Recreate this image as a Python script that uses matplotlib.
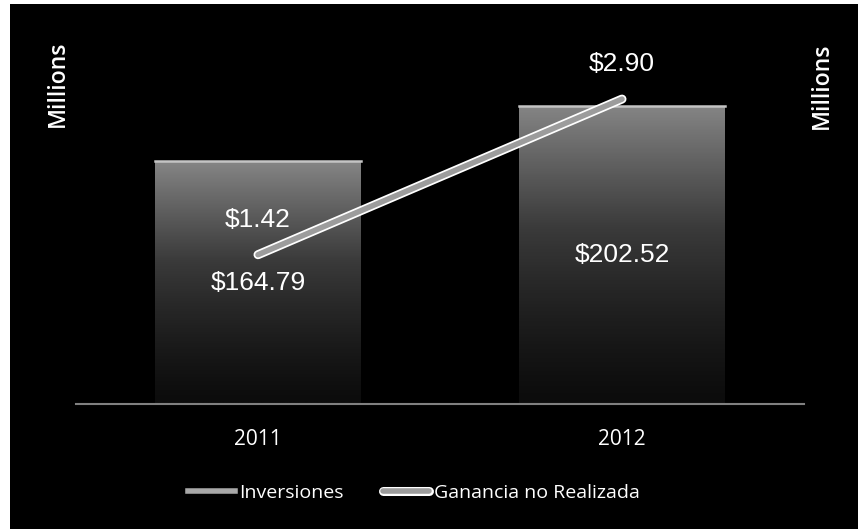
import matplotlib.pyplot as plt
import matplotlib.patheffects as pe
import numpy as np
from matplotlib.lines import Line2D
from matplotlib.patches import Rectangle
from matplotlib.colors import LinearSegmentedColormap

years = ["2011", "2012"]
inversiones = [164.79, 202.52]
ganancia = [1.42, 2.90]
series_names = ["Inversiones", "Ganancia no Realizada"]

humanist = ["Open Sans", "DejaVu Sans"]
arial = ["Liberation Sans", "DejaVu Sans"]

fig = plt.figure(figsize=(8.58, 5.29), dpi=100, facecolor="white")
# black chart area (scan leaves a thin white margin on the left and top)
fig.patches.append(Rectangle((10 / 858, 0), 1, 1 - 4 / 529, transform=fig.transFigure,
                             facecolor="black", edgecolor="none", zorder=-5))

ax = fig.add_axes([76 / 858, 1 - 404 / 529, 728 / 858, 368 / 529])
ax.set_facecolor("none")
x = np.arange(len(years))

bars = ax.bar(x, inversiones, width=0.565, color="none", edgecolor="none", zorder=2)
cmap = LinearSegmentedColormap.from_list("barfade", ["#0c0c0c", "#3a3a3a", "#858585"])
grad = np.linspace(0, 1, 256).reshape(-1, 1) ** 1.3
for b in bars:
    x0, w, h = b.get_x(), b.get_width(), b.get_height()
    im = ax.imshow(grad, cmap=cmap, aspect="auto", origin="lower",
                   extent=(x0, x0 + w, 0, h), zorder=2)
    im.set_clip_path(b)
    ax.plot([x0, x0 + w], [h, h], color="#c4c4c4", lw=1.8, zorder=3)
    ax.text(b.get_x() + w / 2, h / 2, f"${h:,.2f}", ha="center", va="center",
            color="white", fontsize=19, family=arial, zorder=6)

ax.set_xlim(-0.5, 1.5)
ax.set_ylim(0, 250)
ax.set_xticks(x)
ax.set_xticklabels(years, color="white", fontsize=15, family=humanist)
ax.tick_params(axis="x", length=0, pad=18)
ax.set_yticks([])
for s in ["top", "left", "right"]:
    ax.spines[s].set_visible(False)
ax.spines["bottom"].set_color("#808080")
ax.spines["bottom"].set_linewidth(1.5)

ax2 = ax.twinx()
ax2.set_ylim(0, 3.5)
ax2.set_yticks([])
for s in ax2.spines.values():
    s.set_visible(False)
line_fx = [pe.Stroke(linewidth=6.5, foreground="white"), pe.Normal()]
ax2.plot(x, ganancia, color="#9c9c9c", lw=4, solid_capstyle="round",
         path_effects=line_fx, zorder=4)
for xi, v in zip(x, ganancia):
    ax2.annotate(f"${v:.2f}", (xi, v), xytext=(0, 25), textcoords="offset points",
                 ha="center", va="center", color="white", fontsize=19, family=arial)

fig.text(58 / 858, 1 - 84 / 529, "Millions", rotation=90, ha="center", va="center",
         color="white", fontsize=16.5, weight="semibold", family=humanist)
fig.text(822 / 858, 1 - 86 / 529, "Millions", rotation=90, ha="center", va="center",
         color="white", fontsize=16.5, weight="semibold", family=humanist)

handles = [
    Line2D([], [], color="#a8a8a8", lw=4),
    Line2D([], [], color="#9c9c9c", lw=4, solid_capstyle="round",
           path_effects=[pe.Stroke(linewidth=6.5, foreground="white"), pe.Normal()]),
]
leg = fig.legend(handles, series_names, loc="center", bbox_to_anchor=(414 / 858, 1 - 493 / 529),
                 ncol=2, frameon=False, handlelength=2.4, handletextpad=0.25,
                 columnspacing=2.0, prop={"family": humanist, "size": 14})
for t in leg.get_texts():
    t.set_color("white")

fig.savefig("out.png", dpi=100, facecolor=fig.get_facecolor())
